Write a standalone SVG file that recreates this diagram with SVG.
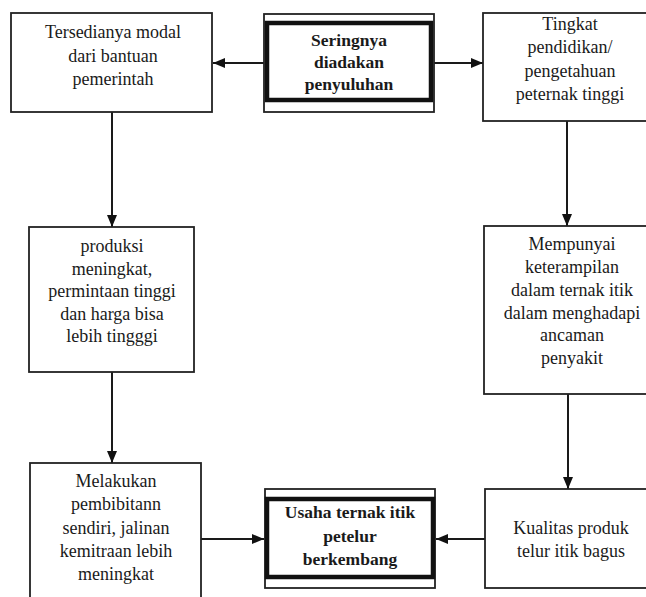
<svg xmlns="http://www.w3.org/2000/svg" width="646" height="597" viewBox="0 0 646 597">
<style>
.box{fill:#fff;stroke:#222;stroke-width:1.8}
.thick{fill:none;stroke:#111;stroke-width:4.5}
.t{font-family:"Liberation Serif","Times New Roman",serif;font-size:18px;fill:#1a1a1a;text-anchor:middle}
.b{font-weight:bold;font-size:17.5px}
.c{stroke:#1a1a1a;stroke-width:2;fill:none;marker-end:url(#ah)}
</style>
<defs>
<marker id="ah" markerWidth="12" markerHeight="10" refX="12" refY="5" orient="auto" markerUnits="userSpaceOnUse">
<path d="M0,0 L12,5 L0,10 Z" fill="#111"/>
</marker>
</defs>
<rect width="646" height="597" fill="#fff"/>
<g id="connectors">
<line class="c" x1="264" y1="63" x2="213" y2="63"/>
<line class="c" x1="434" y1="63" x2="483" y2="63"/>
<line class="c" x1="112" y1="112" x2="112" y2="227"/>
<line class="c" x1="112" y1="372" x2="112" y2="463"/>
<line class="c" x1="567" y1="121" x2="567" y2="226"/>
<line class="c" x1="568" y1="394" x2="568" y2="489"/>
<line class="c" x1="485" y1="539" x2="436" y2="539"/>
<line class="c" x1="201" y1="539" x2="264" y2="539"/>
</g>
<g id="n1">
<rect class="box" x="11" y="13" width="201" height="99"/>
<text class="t" x="113" y="38">Tersedianya modal</text>
<text class="t" x="113" y="62">dari bantuan</text>
<text class="t" x="113" y="85">pemerintah</text>
</g>
<g id="n2">
<rect class="box" x="264" y="14" width="170" height="98"/>
<rect class="thick" x="267" y="23" width="164" height="77"/>
<text class="t b" x="349" y="46">Seringnya</text>
<text class="t b" x="349" y="68">diadakan</text>
<text class="t b" x="349" y="90">penyuluhan</text>
</g>
<g id="n3">
<rect class="box" x="483" y="13" width="180" height="108"/>
<text class="t" x="570" y="30">Tingkat</text>
<text class="t" x="570" y="53">pendidikan/</text>
<text class="t" x="570" y="77">pengetahuan</text>
<text class="t" x="570" y="100">peternak tinggi</text>
</g>
<g id="n4">
<rect class="box" x="29" y="227" width="165" height="145"/>
<text class="t" x="112" y="252">produksi</text>
<text class="t" x="112" y="275">meningkat,</text>
<text class="t" x="112" y="297">permintaan tinggi</text>
<text class="t" x="112" y="320">dan harga bisa</text>
<text class="t" x="112" y="342">lebih tingggi</text>
</g>
<g id="n5">
<rect class="box" x="484" y="226" width="180" height="168"/>
<text class="t" x="572" y="250">Mempunyai</text>
<text class="t" x="572" y="273">keterampilan</text>
<text class="t" x="572" y="296">dalam ternak itik</text>
<text class="t" x="572" y="319">dalam menghadapi</text>
<text class="t" x="572" y="341">ancaman</text>
<text class="t" x="572" y="364">penyakit</text>
</g>
<g id="n6">
<rect class="box" x="30" y="463" width="171" height="150"/>
<text class="t" x="116" y="487">Melakukan</text>
<text class="t" x="116" y="510">pembibitann</text>
<text class="t" x="116" y="534">sendiri, jalinan</text>
<text class="t" x="116" y="557">kemitraan lebih</text>
<text class="t" x="116" y="580">meningkat</text>
</g>
<g id="n7">
<rect class="box" x="265" y="489" width="170" height="99"/>
<rect class="thick" x="267" y="499" width="166" height="78"/>
<text class="t b" x="350" y="518">Usaha ternak itik</text>
<text class="t b" x="350" y="542">petelur</text>
<text class="t b" x="350" y="565">berkembang</text>
</g>
<g id="n8">
<rect class="box" x="485" y="489" width="180" height="99"/>
<text class="t" x="571" y="534">Kualitas  produk</text>
<text class="t" x="571" y="557">telur itik bagus</text>
</g>
</svg>
